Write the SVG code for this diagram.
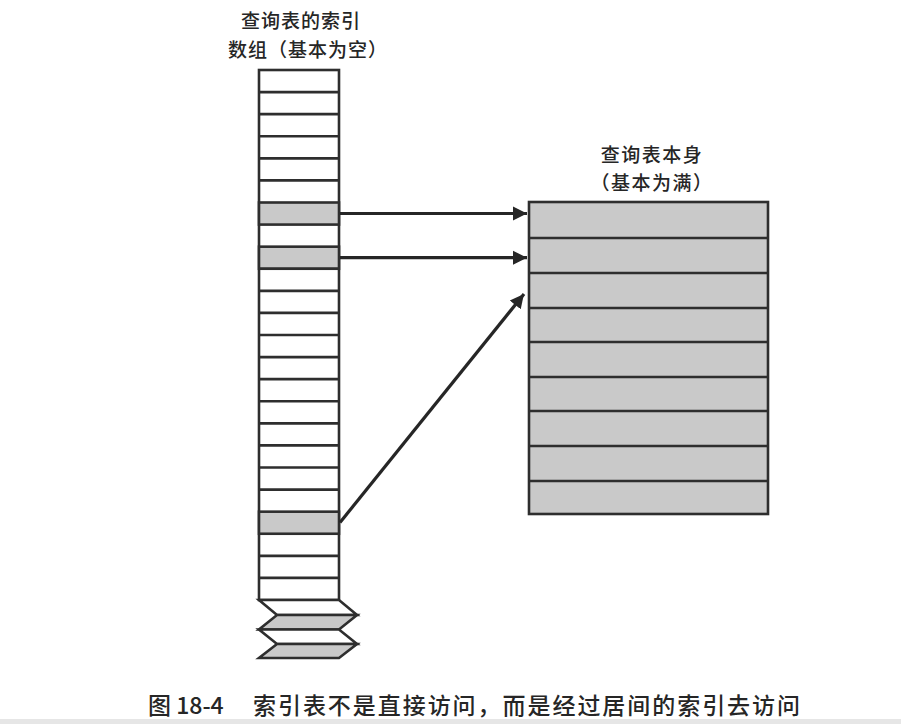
<svg xmlns="http://www.w3.org/2000/svg" width="901" height="724" viewBox="0 0 901 724">
<style>
.t{font-family:"Noto Sans CJK SC","Noto Sans",sans-serif;fill:#262626;font-weight:500;}
.cell{stroke:#2e2e2e;stroke-width:2.6;}
.w{fill:#ffffff;}
.g{fill:#c9c9c9;}
.conn{stroke:#262626;stroke-width:3.2;fill:none;}
</style>
<defs>
<marker id="ah" markerUnits="userSpaceOnUse" markerWidth="16" markerHeight="16" refX="14" refY="8" orient="auto">
<path d="M0,1 L14,8 L0,15 z" fill="#262626"/>
</marker>
</defs>
<rect width="901" height="724" fill="#ffffff"/>
<g id="index-array">
<text class="t" x="301" y="28" font-size="19" letter-spacing="1" text-anchor="middle">查询表的索引</text>
<text class="t" x="308" y="56.5" font-size="19" letter-spacing="1" text-anchor="middle">数组（基本为空）</text>
<rect class="cell w" x="259" y="70" width="80" height="530"/>
<rect class="cell g" x="259" y="202.5" width="80" height="22.08"/>
<rect class="cell g" x="259" y="246.67" width="80" height="22.08"/>
<rect class="cell g" x="259" y="511.67" width="80" height="22.08"/>
<path class="cell" fill="none" d="M259,92.08H339M259,114.17H339M259,136.25H339M259,158.33H339M259,180.42H339M259,268.75H339M259,290.83H339M259,312.92H339M259,335H339M259,357.08H339M259,379.17H339M259,401.25H339M259,423.33H339M259,445.42H339M259,467.5H339M259,489.58H339M259,555.83H339M259,577.92H339"/>
<polygon class="cell w" points="259,600 339,600 357,615 277,615"/>
<polygon class="cell g" points="277,615 357,615 339,629.5 259,629.5"/>
<polygon class="cell w" points="259,629.5 339,629.5 357,644 277,644"/>
<polygon class="cell g" points="277,644 357,644 339,658 259,658"/>
</g>
<g id="lookup-table">
<text class="t" x="652" y="161.5" font-size="19" letter-spacing="1.5" text-anchor="middle">查询表本身</text>
<text class="t" x="652" y="190" font-size="19" letter-spacing="1.5" text-anchor="middle">（基本为满）</text>
<rect class="cell g" x="529" y="202" width="239" height="312" stroke-width="2.8"/>
<path class="cell" fill="none" stroke-width="2.8" d="M529,238H768M529,273H768M529,308H768M529,342H768M529,377H768M529,411H768M529,446H768M529,481H768"/>
</g>
<g id="connectors">
<line class="conn" x1="340" y1="213.5" x2="527" y2="213.5" marker-end="url(#ah)"/>
<line class="conn" x1="340" y1="257.7" x2="527" y2="257.7" marker-end="url(#ah)"/>
<line class="conn" x1="340" y1="522.5" x2="524" y2="294" marker-end="url(#ah)"/>
</g>
<g id="caption">
<text class="t" x="148" y="714" font-size="23">图 18-4</text>
<text class="t" x="253" y="714" font-size="23" textLength="547" lengthAdjust="spacing">索引表不是直接访问，而是经过居间的索引去访问</text>
</g>
<rect x="0" y="719" width="901" height="5" fill="#e6e6e6"/>
</svg>
